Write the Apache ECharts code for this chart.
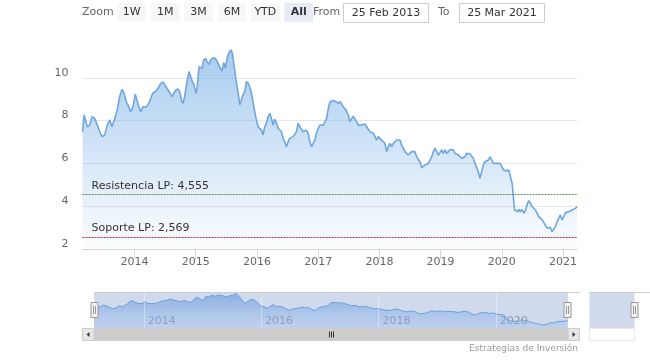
<!DOCTYPE html>
<html>
<head>
<meta charset="utf-8">
<script src="https://cdn.jsdelivr.net/npm/echarts@6/dist/echarts.min.js"></script>
<style>
html,body{margin:0;padding:0;background:#fff;}
#c{width:650px;height:361px;}
</style>
</head>
<body>
<div id="c"></div>
<script>
// ---- data ----
const dates = [
'2013-02-25','2013-03-06','2013-03-13','2013-03-25','2013-04-08','2013-04-22','2013-05-08','2013-05-24','2013-06-07','2013-06-21','2013-07-07','2013-07-22','2013-08-06','2013-08-19','2013-09-05','2013-09-20','2013-10-04','2013-10-18','2013-10-30','2013-11-13','2013-11-27','2013-12-09','2013-12-23',
'2014-01-05','2014-01-15','2014-01-26','2014-02-07','2014-02-20','2014-03-06','2014-03-22','2014-04-08','2014-04-21','2014-05-05','2014-05-21','2014-06-06','2014-06-20','2014-07-05','2014-07-20','2014-07-30','2014-08-13','2014-08-23','2014-09-04','2014-09-17','2014-09-28','2014-10-07','2014-10-17','2014-10-27','2014-11-10','2014-11-22','2014-11-30','2014-12-12','2014-12-22',
'2015-01-01','2015-01-09','2015-01-21','2015-01-28','2015-02-09','2015-02-17','2015-03-02','2015-03-09','2015-03-21','2015-04-04','2015-04-18','2015-04-30','2015-05-14','2015-05-28','2015-06-07','2015-06-17','2015-06-27','2015-07-07','2015-07-19','2015-07-31','2015-08-08','2015-08-16','2015-08-28','2015-09-11','2015-09-21','2015-10-01','2015-10-10','2015-10-21','2015-10-30','2015-11-11','2015-11-25','2015-12-09','2015-12-19','2015-12-29',
'2016-01-08','2016-01-18','2016-01-28','2016-02-07','2016-02-17','2016-02-26','2016-03-08','2016-03-18','2016-03-28','2016-04-07','2016-04-17','2016-04-27','2016-05-07','2016-05-17','2016-05-27','2016-06-05','2016-06-15','2016-06-25','2016-07-05','2016-07-15','2016-07-25','2016-08-04','2016-08-14','2016-08-24','2016-09-03','2016-09-13','2016-09-23','2016-10-03','2016-10-13','2016-10-23','2016-11-02','2016-11-12','2016-11-22','2016-12-01','2016-12-12','2016-12-21',
'2017-01-01','2017-01-11','2017-01-21','2017-01-31','2017-02-10','2017-02-20','2017-03-02','2017-03-12','2017-03-21','2017-04-01','2017-04-16','2017-05-01','2017-05-14','2017-05-30','2017-06-15','2017-06-29','2017-07-09','2017-07-19','2017-07-29','2017-08-08','2017-08-18','2017-08-28','2017-09-07','2017-09-17','2017-09-27','2017-10-07','2017-10-17','2017-10-27','2017-11-06','2017-11-15','2017-11-26','2017-12-06','2017-12-15','2017-12-25',
'2018-01-04','2018-01-14','2018-01-24','2018-02-03','2018-02-13','2018-02-23','2018-03-05','2018-03-15','2018-03-25','2018-04-04','2018-04-14','2018-04-24','2018-05-04','2018-05-13','2018-05-24','2018-06-03','2018-06-12','2018-06-22','2018-07-03','2018-07-12','2018-07-22','2018-08-01','2018-08-11','2018-08-21','2018-08-31','2018-09-10','2018-09-20','2018-09-30','2018-10-10','2018-10-20','2018-10-30','2018-11-09','2018-11-19','2018-11-29','2018-12-09','2018-12-19','2018-12-29',
'2019-01-07','2019-01-17','2019-01-27','2019-02-06','2019-02-16','2019-02-26','2019-03-08','2019-03-18','2019-03-28','2019-04-07','2019-04-17','2019-04-27','2019-05-07','2019-05-17','2019-05-27','2019-06-05','2019-06-16','2019-06-26','2019-07-05','2019-07-15','2019-07-26','2019-08-04','2019-08-14','2019-08-24','2019-09-03','2019-09-13','2019-09-23','2019-10-03','2019-10-13','2019-10-23','2019-11-02','2019-11-12','2019-11-22','2019-12-02','2019-12-12','2019-12-22',
'2020-01-01','2020-01-11','2020-01-23','2020-02-02','2020-02-11','2020-02-21','2020-03-03','2020-03-12','2020-03-18','2020-03-28','2020-04-05','2020-04-13','2020-04-21','2020-05-01','2020-05-11','2020-05-21','2020-05-31','2020-06-10','2020-06-20','2020-06-30','2020-07-10','2020-07-20','2020-07-30','2020-08-09','2020-08-19','2020-08-29','2020-09-07','2020-09-17','2020-09-27','2020-10-07','2020-10-17','2020-10-27','2020-11-06','2020-11-16','2020-11-26','2020-12-06','2020-12-16','2020-12-26',
'2021-01-05','2021-01-15','2021-01-25','2021-02-04','2021-02-14','2021-02-24','2021-03-06','2021-03-16','2021-03-25'
];
const prices = [
7.48,8.26,8.34,7.71,7.79,8.18,8.10,7.79,7.48,7.25,7.33,7.79,8.03,7.71,8.10,8.50,9.12,9.46,9.28,8.88,8.65,8.42,8.65,
9.24,9.27,8.65,8.42,8.65,8.62,8.73,9.04,9.30,9.35,9.51,9.74,9.80,9.62,9.43,9.51,9.12,9.28,9.43,9.48,9.35,8.96,8.81,9.12,9.82,10.29,10.32,9.82,9.66,
9.28,9.51,10.52,10.60,10.44,10.83,10.91,10.75,10.63,10.88,10.94,10.88,10.68,10.44,10.32,10.72,10.44,10.91,11.19,11.30,11.14,10.68,9.98,9.28,8.73,8.65,9.20,9.35,9.82,9.74,9.43,8.88,8.42,8.03,
7.71,7.79,7.56,7.33,7.71,7.87,8.18,8.34,8.10,7.79,8.06,7.87,7.64,7.59,7.48,7.17,7.01,6.78,7.01,7.17,7.09,7.25,7.17,7.48,7.87,7.71,7.79,7.48,7.41,7.56,7.41,7.01,6.78,6.71,7.09,7.41,
7.64,7.79,7.87,7.79,7.79,8.10,8.57,8.88,8.96,8.94,8.88,8.81,8.88,8.65,8.50,8.26,7.95,8.03,8.21,8.18,7.95,7.79,7.87,7.79,7.87,7.84,7.71,7.64,7.48,7.41,7.41,7.25,7.09,7.25,
7.17,7.09,7.13,6.94,6.55,6.78,6.94,6.78,6.94,7.01,7.09,7.17,7.09,6.86,6.71,6.55,6.63,6.39,6.47,6.55,6.47,6.55,6.31,6.35,6.08,5.80,5.85,5.93,5.93,6.00,6.00,6.31,6.55,6.71,6.63,6.39,6.47,
6.63,6.47,6.63,6.47,6.39,6.63,6.55,6.63,6.47,6.44,6.39,6.31,6.24,6.16,6.31,6.47,6.55,6.44,6.50,6.24,6.00,5.93,5.61,5.30,5.61,5.93,6.08,6.08,6.16,6.31,6.16,6.00,5.93,6.00,6.08,6.00,
5.85,5.70,5.65,5.72,5.69,5.77,5.07,4.29,3.82,3.90,3.74,3.85,3.74,3.85,3.67,3.79,4.06,4.26,4.14,3.98,3.95,3.82,3.74,3.51,3.43,3.36,3.28,3.12,2.97,2.89,3.01,2.81,2.73,3.04,3.28,3.43,3.59,3.36,
3.51,3.70,3.70,3.74,3.70,3.82,3.74,3.90,4.00
];
const yearTicks = ['2014','2015','2016','2017','2018','2019','2020','2021'];
const navYearTicks = ['2014','2016','2018','2020'];
const plotLineNames = ['Resistencia LP', 'Soporte LP'];
const plotLineValues = [4.555, 2.569];
const rangeButtons = ['1W','1M','3M','6M','YTD','All'];
const selectedButton = 'All';
const fromLabel = '25 Feb 2013';
const toLabel = '25 Mar 2021';
const creditText = 'Estrategias de Inversión';

// ---- chart ----
const FONT = 'DejaVu Sans';
const toTime = s => { const p = s.split('-').map(Number); return new Date(p[0], p[1] - 1, p[2]).getTime(); };
const seriesData = dates.map((d, i) => [toTime(d), prices[i]]);
const yearVal = y => new Date(+y, 0, 1).getTime();
const yearFmt = v => String(new Date(v).getFullYear());
const plotLineColors = ['#55935a', '#b0303f'];
const xMin = toTime(dates[0]);
const xMax = toTime(dates[dates.length - 1]);

const chart = echarts.init(document.getElementById('c'), null, {renderer: 'canvas'});

const graphics = [];
// Range selector
graphics.push({type:'text', x: 82, y: 12.5, style:{text:'Zoom', font:'11px ' + FONT, fill:'#666', verticalAlign:'middle'}});
rangeButtons.forEach((b, i) => {
  const x = 117.5 + i * 33.4;
  const sel = b === selectedButton;
  graphics.push({type:'rect', shape:{x:x, y:3, width:28.5, height:19, r:0}, style:{fill: sel ? '#e6ebf5' : '#f7f7f7'}});
  graphics.push({type:'text', x: x + 14.25, y: 12.5, style:{text:b, font:(sel ? 'bold ' : '') + '11px ' + FONT, fill:'#333', align:'center', verticalAlign:'middle'}});
});
graphics.push({type:'text', x: 313, y: 12.5, style:{text:'From', font:'11px ' + FONT, fill:'#666', verticalAlign:'middle'}});
graphics.push({type:'rect', shape:{x:343.5, y:3.5, width:85, height:19}, style:{fill:'#fff', stroke:'#cccccc', lineWidth:1}});
graphics.push({type:'text', x: 386, y: 13, style:{text:fromLabel, font:'11px ' + FONT, fill:'#333', align:'center', verticalAlign:'middle'}});
graphics.push({type:'text', x: 438, y: 12.5, style:{text:'To', font:'11px ' + FONT, fill:'#666', verticalAlign:'middle'}});
graphics.push({type:'rect', shape:{x:459.5, y:3.5, width:85, height:19}, style:{fill:'#fff', stroke:'#cccccc', lineWidth:1}});
graphics.push({type:'text', x: 502, y: 13, style:{text:toLabel, font:'11px ' + FONT, fill:'#333', align:'center', verticalAlign:'middle'}});

// Navigator outline & handles
graphics.push({type:'line', z:20, shape:{x1:94, y1:292.5, x2:580, y2:292.5}, style:{stroke:'#cccccc', lineWidth:1}});
function handle(cx) {
  graphics.push({type:'rect', z:30, shape:{x:cx - 3.5, y:302.5, width:7, height:15}, style:{fill:'#f2f2f2', stroke:'#999999', lineWidth:1}});
  graphics.push({type:'line', z:31, shape:{x1:cx - 1, y1:306, x2:cx - 1, y2:314}, style:{stroke:'#999999', lineWidth:1}});
  graphics.push({type:'line', z:31, shape:{x1:cx + 1, y1:306, x2:cx + 1, y2:314}, style:{stroke:'#999999', lineWidth:1}});
}
handle(94.5);
handle(567.5);
// Scrollbar
graphics.push({type:'rect', z:20, shape:{x:94, y:328, width:474, height:13}, style:{fill:'#cccccc'}});
graphics.push({type:'rect', z:20, shape:{x:82.5, y:328.5, width:11.5, height:12}, style:{fill:'#e6e6e6', stroke:'#cccccc', lineWidth:1}});
graphics.push({type:'rect', z:20, shape:{x:568, y:328.5, width:11.5, height:12}, style:{fill:'#e6e6e6', stroke:'#cccccc', lineWidth:1}});
graphics.push({type:'polygon', z:21, shape:{points:[[89.5,332],[89.5,337],[86.5,334.5]]}, style:{fill:'#333'}});
graphics.push({type:'polygon', z:21, shape:{points:[[572.5,332],[572.5,337],[575.5,334.5]]}, style:{fill:'#333'}});
[329, 331, 333].forEach(x => graphics.push({type:'line', z:21, shape:{x1:x + 0.5, y1:331.5, x2:x + 0.5, y2:337.5}, style:{stroke:'#333', lineWidth:1}}));
// Secondary navigator box on the right
graphics.push({type:'line', z:20, shape:{x1:589, y1:292.5, x2:650, y2:292.5}, style:{stroke:'#cccccc', lineWidth:1}});
graphics.push({type:'rect', z:20, shape:{x:589.5, y:293, width:45, height:35}, style:{fill:'rgba(102,133,194,0.3)'}});
graphics.push({type:'rect', z:20, shape:{x:589.5, y:328.5, width:45, height:12}, style:{fill:'#fff', stroke:'#e6e6e6', lineWidth:1}});
handle(634.5);
// Credits
graphics.push({type:'text', x: 578, y: 348.5, style:{text:creditText, font:'9px ' + FONT, fill:'#999', align:'right', verticalAlign:'middle'}});

const option = {
  animation: false,
  backgroundColor: '#fff',
  textStyle: {fontFamily: FONT},
  grid: [
    {left: 82.6, right: 73, top: 35, bottom: 112},
    {left: 94, right: 82, top: 293, height: 35, show: true, backgroundColor: 'rgba(102,133,194,0.3)', borderWidth: 0}
  ],
  xAxis: [
    {
      type: 'value', gridIndex: 0, min: xMin, max: xMax, scale: true,
      axisLine: {show: true, lineStyle: {color: '#ccd6eb'}},
      axisTick: {show: true, length: 10, lineStyle: {color: '#ccd6eb'}, customValues: yearTicks.map(yearVal)},
      axisLabel: {customValues: yearTicks.map(yearVal), formatter: yearFmt, color: '#666', fontSize: 11, fontFamily: FONT, margin: 8},
      splitLine: {show: false}
    },
    {
      type: 'value', gridIndex: 1, min: xMin, max: xMax, scale: true,
      axisLine: {show: false},
      axisTick: {show: false, customValues: navYearTicks.map(yearVal)},
      axisLabel: {inside: true, customValues: navYearTicks.map(yearVal), formatter: yearFmt, color: '#8a95a8', fontSize: 11, fontFamily: FONT, align: 'left', padding: [0, 0, 0, 4], margin: 1},
      splitLine: {show: false}
    }
  ],
  yAxis: [
    {
      type: 'value', gridIndex: 0, min: 2, max: 12, interval: 2,
      axisLine: {show: false}, axisTick: {show: false},
      axisLabel: {showMaxLabel: false, color: '#666', fontSize: 11, fontFamily: FONT, margin: 14, verticalAlign: 'bottom', lineHeight: 10},
      splitLine: {show: true, showMaxLine: false, lineStyle: {color: '#e6e6e6', width: 1}}
    },
    {
      type: 'value', gridIndex: 1, min: 2, max: 11.5, show: false, splitLine: {show: false}
    }
  ],
  graphic: graphics,
  series: [
    {
      type: 'line', xAxisIndex: 0, yAxisIndex: 0, data: seriesData, showSymbol: false,
      lineStyle: {color: '#6fa6dd', width: 1.6},
      areaStyle: {color: new echarts.graphic.LinearGradient(0, 0, 0, 1, [
        {offset: 0, color: 'rgba(124,178,232,0.95)'},
        {offset: 1, color: 'rgba(124,178,232,0.03)'}
      ])},
      markLine: {
        silent: true, symbol: 'none', animation: false,
        data: plotLineValues.map((v, i) => ({
          yAxis: v,
          lineStyle: {color: plotLineColors[i], type: [2, 1], width: 1},
          label: {show: true, position: 'insideStartTop', formatter: plotLineNames[i] + ': ' + v.toFixed(3).replace('.', ','), color: '#333', fontSize: 11, fontFamily: FONT, padding: [0, 0, 0, 6], distance: 3}
        }))
      }
    },
    {
      type: 'line', xAxisIndex: 1, yAxisIndex: 1, data: seriesData, showSymbol: false,
      lineStyle: {color: '#6a9fdb', width: 1},
      areaStyle: {color: new echarts.graphic.LinearGradient(0, 0, 0, 1, [
        {offset: 0, color: 'rgba(95,148,222,0.85)'},
        {offset: 1, color: 'rgba(150,188,235,0.45)'}
      ])},
      markLine: {
        silent: true, symbol: 'none', animation: false, label: {show: false},
        lineStyle: {color: 'rgba(255,255,255,0.35)', type: 'solid', width: 1},
        data: navYearTicks.map(y => ({xAxis: yearVal(y)}))
      }
    }
  ]
};
chart.setOption(option);
</script>
</body>
</html>
